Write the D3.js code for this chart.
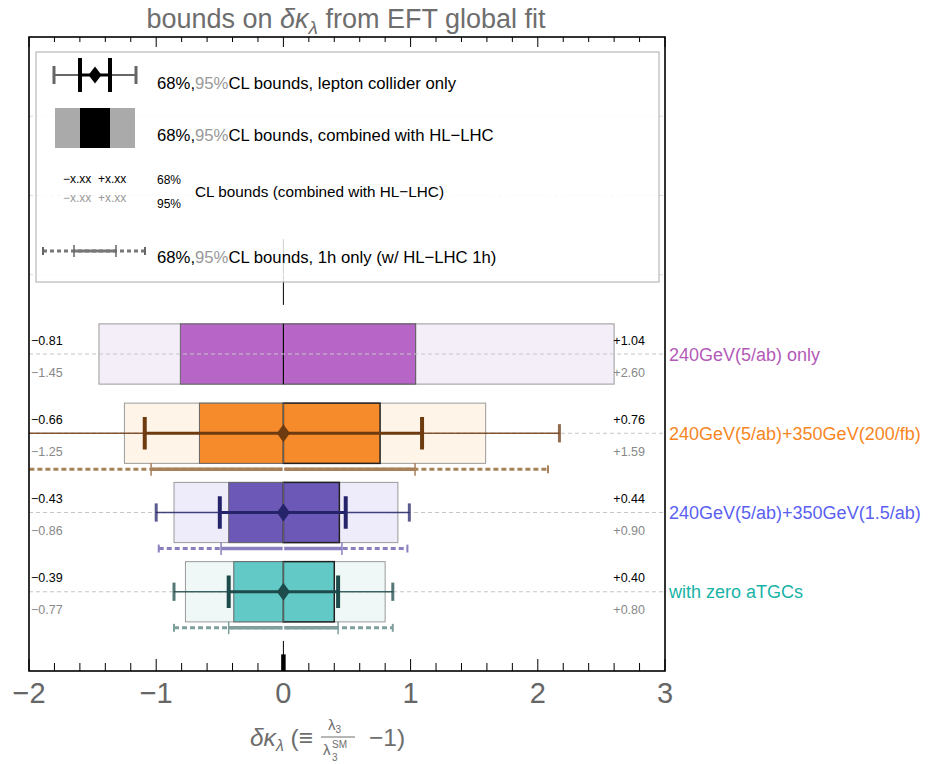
<!DOCTYPE html>
<html><head><meta charset="utf-8">
<script src="https://cdn.jsdelivr.net/npm/d3@7"></script>
<style>body{margin:0;background:#fff} svg{font-family:"Liberation Sans",Arial,sans-serif}</style>
</head><body><svg id="c" width="938" height="764"></svg>
<script>
// ---------- data ----------
const rowNames = ["240GeV(5/ab) only", "240GeV(5/ab)+350GeV(200/fb)", "240GeV(5/ab)+350GeV(1.5/ab)", "with zero aTGCs"];
const rowPos = [4, 3, 2, 1];
const comb68Lo = [-0.81, -0.66, -0.43, -0.39];
const comb68Hi = [1.04, 0.76, 0.44, 0.40];
const comb95Lo = [-1.45, -1.25, -0.86, -0.77];
const comb95Hi = [2.60, 1.59, 0.90, 0.80];
const lep68Lo = [null, -1.09, -0.50, -0.43];
const lep68Hi = [null, 1.09, 0.49, 0.43];
const lep95Lo = [null, -2.5, -1.00, -0.86];
const lep95Hi = [null, 2.17, 0.99, 0.86];
const h68Lo = [null, -1.04, -0.49, -0.43];
const h68Hi = [null, 1.035, 0.46, 0.43];
const h95Lo = [null, -2.5, -0.98, -0.86];
const h95Hi = [null, 2.08, 0.975, 0.86];
const lab68Lo = ["\u22120.81", "\u22120.66", "\u22120.43", "\u22120.39"];
const lab68Hi = ["+1.04", "+0.76", "+0.44", "+0.40"];
const lab95Lo = ["\u22121.45", "\u22121.25", "\u22120.86", "\u22120.77"];
const lab95Hi = ["+2.60", "+1.59", "+0.90", "+0.80"];
const xTicks = [-2, -1, 0, 1, 2, 3];
const xTickLabels = ["\u22122", "\u22121", "0", "1", "2", "3"];
const gridRowsLegend = [5, 6, 7];

// ---------- styles ----------
const darkCol = ["#b766c8", "#f58b2a", "#6c58b7", "#63c9c6"];
const lightCol = ["#f4eef9", "#fef4e7", "#eeecfa", "#eff8f6"];
const errCol = ["#000", "#6e3a10", "#25246a", "#1d4a4a"];
const hCol = ["#999", "#a8805a", "#8a80c0", "#7f9f9d"];
const labCol = ["#b35ab8", "#f7861f", "#5a5ff2", "#17b3a7"];

const svg = d3.select("#c");
const x = d3.scaleLinear().domain([-2, 3]).range([29, 665]);
const y = d3.scaleLinear().domain([0, 8]).range([671, 37]);
const idx = d3.range(rowNames.length);

svg.append("defs").append("clipPath").attr("id", "clip")
  .append("rect").attr("x", x(-2)).attr("y", y(8)).attr("width", x(3) - x(-2)).attr("height", y(0) - y(8));
const plot = svg.append("g").attr("clip-path", "url(#clip)");

// zero markers
plot.append("line").attr("x1", x(0)).attr("x2", x(0)).attr("y1", y(5.45)).attr("y2", y(4.62)).attr("stroke", "#000").attr("stroke-width", 1);
plot.append("line").attr("x1", x(0)).attr("x2", x(0)).attr("y1", y(0.38)).attr("y2", y(0)).attr("stroke", "#000").attr("stroke-width", 1);
plot.append("line").attr("x1", x(0)).attr("x2", x(0)).attr("y1", y(0.21)).attr("y2", y(0)).attr("stroke", "#000").attr("stroke-width", 4.5);

const bh = 0.38;
plot.selectAll(".lb").data(idx).join("rect")
  .attr("x", i => x(comb95Lo[i])).attr("width", i => x(comb95Hi[i]) - x(comb95Lo[i]))
  .attr("y", i => y(rowPos[i] + bh)).attr("height", y(0) - y(2 * bh))
  .attr("fill", i => lightCol[i]).attr("stroke", "#9a9a9a").attr("stroke-width", 1);
plot.selectAll(".dbl").data(idx).join("rect")
  .attr("x", i => x(comb68Lo[i])).attr("width", i => x(0) - x(comb68Lo[i]))
  .attr("y", i => y(rowPos[i] + bh)).attr("height", y(0) - y(2 * bh))
  .attr("fill", i => darkCol[i]).attr("stroke", "#666").attr("stroke-width", 1);
plot.selectAll(".dbr").data(idx).join("rect")
  .attr("x", x(0)).attr("width", i => x(comb68Hi[i]) - x(0))
  .attr("y", i => y(rowPos[i] + bh)).attr("height", y(0) - y(2 * bh))
  .attr("fill", i => darkCol[i]).attr("stroke", i => i === 0 ? "#555" : "#222").attr("stroke-width", i => i === 0 ? 1 : 1.5);
plot.selectAll(".zl").data(idx).join("line")
  .attr("x1", x(0)).attr("x2", x(0)).attr("y1", i => y(rowPos[i] + bh)).attr("y2", i => y(rowPos[i] - bh))
  .attr("stroke", i => i === 0 ? "#000" : "#666").attr("stroke-width", 1);

// legend background
const lg = svg.append("g");
lg.append("rect").attr("x", 36).attr("y", 52).attr("width", 623).attr("height", 230)
  .attr("fill", "#fff").attr("fill-opacity", 0.82).attr("stroke", "#aaa").attr("stroke-width", 1);

// gridlines
plot.selectAll(".gl").data(gridRowsLegend).join("line")
  .attr("x1", x(-2)).attr("x2", x(3)).attr("y1", d => y(d)).attr("y2", d => y(d))
  .attr("stroke", "#ddd").attr("stroke-dasharray", "4,3").attr("stroke-width", 1);
plot.selectAll(".gd").data(idx).join("line")
  .attr("x1", x(-2)).attr("x2", x(3)).attr("y1", i => y(rowPos[i])).attr("y2", i => y(rowPos[i]))
  .attr("stroke", "#c6c6c6").attr("stroke-dasharray", "4,3").attr("stroke-width", 1);

// lepton-only error bars
const eb = idx.filter(i => lep68Lo[i] !== null);
plot.selectAll(".e95").data(eb).join("line")
  .attr("x1", i => x(lep95Lo[i])).attr("x2", i => x(lep95Hi[i])).attr("y1", i => y(rowPos[i])).attr("y2", i => y(rowPos[i]))
  .attr("stroke", i => errCol[i]).attr("stroke-opacity", 0.85).attr("stroke-width", 1.3);
plot.selectAll(".e68").data(eb).join("line")
  .attr("x1", i => x(lep68Lo[i])).attr("x2", i => x(lep68Hi[i])).attr("y1", i => y(rowPos[i])).attr("y2", i => y(rowPos[i]))
  .attr("stroke", i => errCol[i]).attr("stroke-width", 3);
eb.forEach(i => {
  [lep95Lo[i], lep95Hi[i]].forEach(v => {
    plot.append("line").attr("x1", x(v)).attr("x2", x(v)).attr("y1", y(rowPos[i] + 0.115)).attr("y2", y(rowPos[i] - 0.115))
      .attr("stroke", errCol[i]).attr("stroke-opacity", 0.75).attr("stroke-width", 3);
  });
  [lep68Lo[i], lep68Hi[i]].forEach(v => {
    plot.append("line").attr("x1", x(v)).attr("x2", x(v)).attr("y1", y(rowPos[i] + 0.205)).attr("y2", y(rowPos[i] - 0.205))
      .attr("stroke", errCol[i]).attr("stroke-width", 4);
  });
  const cx = x(0), cy = y(rowPos[i]);
  plot.append("path").attr("d", `M${cx - 6.5},${cy}L${cx},${cy - 9}L${cx + 6.5},${cy}L${cx},${cy + 9}Z`).attr("fill", errCol[i]);
});

// 1h-only lines
const hoff = 0.455;
plot.selectAll(".h95").data(eb).join("line")
  .attr("x1", i => x(h95Lo[i])).attr("x2", i => x(h95Hi[i])).attr("y1", i => y(rowPos[i] - hoff)).attr("y2", i => y(rowPos[i] - hoff))
  .attr("stroke", i => hCol[i]).attr("stroke-width", 3).attr("stroke-dasharray", "5,3");
plot.selectAll(".h68").data(eb).join("line")
  .attr("x1", i => x(h68Lo[i])).attr("x2", i => x(h68Hi[i])).attr("y1", i => y(rowPos[i] - hoff)).attr("y2", i => y(rowPos[i] - hoff))
  .attr("stroke", i => hCol[i]).attr("stroke-width", 3.5);
eb.forEach(i => {
  [h68Lo[i], h68Hi[i]].forEach(v => {
    plot.append("line").attr("x1", x(v)).attr("x2", x(v)).attr("y1", y(rowPos[i] - hoff + 0.08)).attr("y2", y(rowPos[i] - hoff - 0.08))
      .attr("stroke", hCol[i]).attr("stroke-width", 1.5);
  });
  [h95Lo[i], h95Hi[i]].forEach(v => {
    plot.append("line").attr("x1", x(v)).attr("x2", x(v)).attr("y1", y(rowPos[i] - hoff + 0.05)).attr("y2", y(rowPos[i] - hoff - 0.05))
      .attr("stroke", hCol[i]).attr("stroke-width", 2);
  });
  plot.append("line").attr("x1", x(0)).attr("x2", x(0)).attr("y1", y(rowPos[i] - hoff + 0.03)).attr("y2", y(rowPos[i] - hoff - 0.03))
    .attr("stroke", "#fff").attr("stroke-width", 1.5);
});

// number labels
const nl = svg.append("g").attr("font-size", 12.5);
idx.forEach(i => {
  const cy = y(rowPos[i]);
  nl.append("text").attr("x", 31).attr("y", cy - 9.5).attr("fill", "#000").text(lab68Lo[i]);
  nl.append("text").attr("x", 31).attr("y", cy + 22.5).attr("fill", "#888").text(lab95Lo[i]);
  nl.append("text").attr("x", 645).attr("y", cy - 9.5).attr("text-anchor", "end").attr("fill", "#000").text(lab68Hi[i]);
  nl.append("text").attr("x", 645).attr("y", cy + 22.5).attr("text-anchor", "end").attr("fill", "#888").text(lab95Hi[i]);
});
svg.selectAll(".rn").data(idx).join("text")
  .attr("x", 669).attr("y", i => y(rowPos[i]) + 6.5).attr("font-size", 18).attr("fill", i => labCol[i]).text(i => rowNames[i]);

// legend content
const L = lg.append("g");
const ly1 = 75;
L.append("line").attr("x1", 54).attr("x2", 136).attr("y1", ly1).attr("y2", ly1).attr("stroke", "#333").attr("stroke-width", 1.5);
L.append("line").attr("x1", 80).attr("x2", 110).attr("y1", ly1).attr("y2", ly1).attr("stroke", "#000").attr("stroke-width", 3);
[54, 136].forEach(v => L.append("line").attr("x1", v).attr("x2", v).attr("y1", ly1 - 9).attr("y2", ly1 + 9).attr("stroke", "#666").attr("stroke-width", 3));
[80, 110].forEach(v => L.append("line").attr("x1", v).attr("x2", v).attr("y1", ly1 - 17).attr("y2", ly1 + 17).attr("stroke", "#000").attr("stroke-width", 4));
L.append("path").attr("d", `M88.5,${ly1}L95,${ly1 - 8.5}L101.5,${ly1}L95,${ly1 + 8.5}Z`).attr("fill", "#000");
function legText(yb, rest) {
  const t = L.append("text").attr("x", 157).attr("y", yb).attr("font-size", 16.7).attr("fill", "#000");
  t.append("tspan").text("68%,");
  t.append("tspan").attr("fill", "#999").text("95%");
  t.append("tspan").text(rest);
}
legText(89, "CL bounds, lepton collider only");
L.append("rect").attr("x", 55).attr("y", 108).attr("width", 80).attr("height", 40).attr("fill", "#aaa");
L.append("rect").attr("x", 80).attr("y", 108).attr("width", 30).attr("height", 40).attr("fill", "#000");
legText(141, "CL bounds, combined with HL\u2212LHC");
L.append("text").attr("x", 63).attr("y", 183).attr("font-size", 12).attr("fill", "#000").attr("xml:space", "preserve").text("\u2212x.xx  +x.xx");
L.append("text").attr("x", 63).attr("y", 202).attr("font-size", 12).attr("fill", "#999").attr("xml:space", "preserve").text("\u2212x.xx  +x.xx");
L.append("text").attr("x", 157).attr("y", 184).attr("font-size", 12).attr("fill", "#000").text("68%");
L.append("text").attr("x", 157).attr("y", 208).attr("font-size", 12).attr("fill", "#000").text("95%");
L.append("text").attr("x", 195).attr("y", 197).attr("font-size", 15.3).attr("fill", "#000").text("CL bounds (combined with HL\u2212LHC)");
const ly4 = 251;
L.append("line").attr("x1", 43).attr("x2", 145).attr("y1", ly4).attr("y2", ly4).attr("stroke", "#777").attr("stroke-width", 3).attr("stroke-dasharray", "4,3");
L.append("line").attr("x1", 74).attr("x2", 116).attr("y1", ly4).attr("y2", ly4).attr("stroke", "#777").attr("stroke-width", 3);
[74, 116].forEach(v => L.append("line").attr("x1", v).attr("x2", v).attr("y1", ly4 - 6).attr("y2", ly4 + 6).attr("stroke", "#666").attr("stroke-width", 1.5));
[43, 145].forEach(v => L.append("line").attr("x1", v).attr("x2", v).attr("y1", ly4 - 4).attr("y2", ly4 + 4).attr("stroke", "#666").attr("stroke-width", 2));
legText(263, "CL bounds, 1h only (w/ HL\u2212LHC 1h)");

// frame & ticks
svg.append("rect").attr("x", x(-2)).attr("y", y(8)).attr("width", x(3) - x(-2)).attr("height", y(0) - y(8))
  .attr("fill", "none").attr("stroke", "#000").attr("stroke-width", 1.6);
const minor = d3.range(-2, 3.001, 0.2).map(v => Math.round(v * 10) / 10);
const isMajor = v => Math.abs(v - Math.round(v)) < 1e-9;
svg.selectAll(".tb").data(minor).join("line")
  .attr("x1", d => x(d)).attr("x2", d => x(d)).attr("y1", y(0)).attr("y2", d => y(0) - (isMajor(d) ? 12 : 8))
  .attr("stroke", "#000").attr("stroke-width", 1);
svg.selectAll(".tt").data(minor).join("line")
  .attr("x1", d => x(d)).attr("x2", d => x(d)).attr("y1", y(8)).attr("y2", d => y(8) + (isMajor(d) ? 10 : 5))
  .attr("stroke", "#000").attr("stroke-width", 1);
svg.selectAll(".tl").data(xTicks).join("text")
  .attr("x", d => x(d)).attr("y", 703).attr("text-anchor", "middle").attr("font-size", 29).attr("fill", "#666")
  .text((d, i) => xTickLabels[i]);

// title
const tt = svg.append("text").attr("x", 346).attr("y", 28).attr("text-anchor", "middle").attr("font-size", 27).attr("fill", "#6e6e6e");
tt.append("tspan").text("bounds on ");
tt.append("tspan").attr("font-style", "italic").text("\u03b4\u03ba");
tt.append("tspan").attr("font-style", "italic").attr("font-size", 19).attr("dy", 6).text("\u03bb");
tt.append("tspan").attr("dy", -6).text(" from EFT global fit");

// x axis label
const xl = svg.append("g").attr("fill", "#6e6e6e");
const t1 = xl.append("text").attr("x", 250).attr("y", 746).attr("font-size", 24.5);
t1.append("tspan").attr("font-style", "italic").text("\u03b4\u03ba");
t1.append("tspan").attr("font-style", "italic").attr("font-size", 16).attr("dy", 5).text("\u03bb");
t1.append("tspan").attr("dy", -5).attr("xml:space", "preserve").text(" (\u2261");
const e1 = 250 + t1.node().getComputedTextLength();
const fc = e1 + 25;
xl.append("line").attr("x1", fc - 17).attr("x2", fc + 17).attr("y1", 737).attr("y2", 737).attr("stroke", "#6e6e6e").attr("stroke-width", 1);
const num = xl.append("text").attr("x", fc - 10).attr("y", 730).attr("font-size", 15);
num.append("tspan").text("\u03bb");
num.append("tspan").attr("font-size", 10).attr("dy", 3).text("3");
const den = xl.append("text").attr("x", fc - 15).attr("y", 755).attr("font-size", 15).text("\u03bb");
xl.append("text").attr("x", fc - 6).attr("y", 761).attr("font-size", 10).text("3");
xl.append("text").attr("x", fc - 6).attr("y", 748).attr("font-size", 10).text("SM");
xl.append("text").attr("x", fc + 31).attr("y", 746).attr("font-size", 24.5).text("\u22121)");
</script></body></html>
